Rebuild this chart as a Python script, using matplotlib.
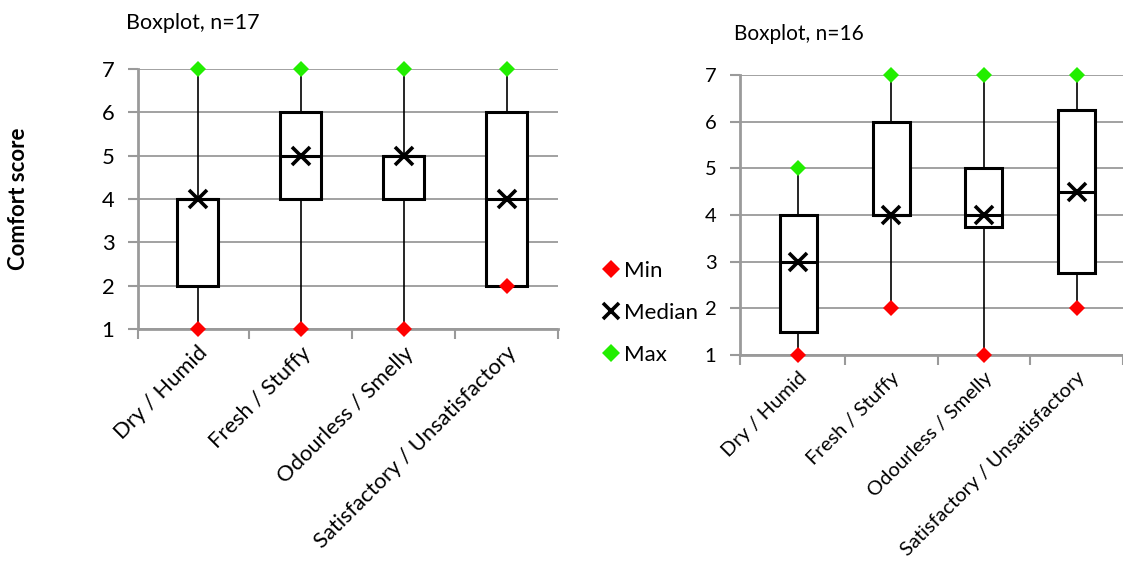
import matplotlib
matplotlib.use("Agg")
import matplotlib.pyplot as plt
from matplotlib.lines import Line2D

plt.rcParams['font.family'] = ['Lato', 'DejaVu Sans']

categories = ['Dry / Humid', 'Fresh / Stuffy', 'Odourless / Smelly',
              'Satisfactory / Unsatisfactory']

# left chart, n=17
mins_17 = [1, 1, 1, 2]
q1_17 = [2, 4, 4, 2]
med_17 = [4, 5, 5, 4]
q3_17 = [4, 6, 5, 6]
maxs_17 = [7, 7, 7, 7]

# right chart, n=16
mins_16 = [1, 2, 1, 2]
q1_16 = [1.5, 4, 3.75, 2.75]
med_16 = [3, 4, 4, 4.5]
q3_16 = [4, 6, 5, 6.25]
maxs_16 = [5, 7, 7, 7]

yticks = [1, 2, 3, 4, 5, 6, 7]

GRID = '#9a9a9a'
RED = '#ff0000'
GREEN = '#22ee00'

W, H = 1123, 568
fig = plt.figure(figsize=(W / 100, H / 100), dpi=100)


def px_axes(x0, x1, ytop, ybot):
    return fig.add_axes([x0 / W, 1 - ybot / H, (x1 - x0) / W, (ybot - ytop) / H])


def draw_panel(ax, mins, q1, med, q3, maxs, xlim, fs):
    stats = []
    for lo, a, m, b, hi in zip(mins, q1, med, q3, maxs):
        stats.append({'whislo': lo, 'q1': a, 'med': m, 'q3': b, 'whishi': hi})
    pos = list(range(1, len(stats) + 1))
    ax.bxp(stats, positions=pos, widths=0.4, showcaps=False, showfliers=False,
           patch_artist=True,
           boxprops=dict(facecolor='white', edgecolor='black', linewidth=2.2),
           whiskerprops=dict(color='black', linewidth=1.2),
           medianprops=dict(color='black', linewidth=2.2),
           zorder=3)
    ax.plot(pos, mins, 'D', color=RED, ms=8, mew=0, clip_on=False, zorder=5)
    ax.plot(pos, maxs, 'D', color=GREEN, ms=8, mew=0, clip_on=False, zorder=5)
    ax.plot(pos, med, 'x', color='black', ms=13, mew=2.6, clip_on=False, zorder=6)

    ax.set_xlim(*xlim)
    ax.set_ylim(1, 7)
    ax.set_yticks(yticks)
    ax.set_yticklabels([str(v) for v in yticks], fontsize=fs)
    ax.set_xticks(pos)
    ax.set_xticklabels(categories, rotation=45, ha='right', va='top',
                       rotation_mode='anchor', fontsize=fs)
    ax.tick_params(axis='x', length=0, pad=10)
    ax.set_xticks([xlim[0], 1.5, 2.5, 3.5, 4.5], minor=True)
    ax.tick_params(axis='x', which='minor', length=7, width=1.5, color=GRID,
                   direction='out')
    ax.tick_params(axis='y', length=7, width=1.5, color=GRID, pad=10)
    ax.grid(axis='y', color=GRID, linewidth=1.3)
    ax.set_axisbelow(True)
    for s in ['top', 'right']:
        ax.spines[s].set_visible(False)
    for s in ['left', 'bottom']:
        ax.spines[s].set_color(GRID)
        ax.spines[s].set_linewidth(2)


ax1 = px_axes(138, 558, 69, 329)
draw_panel(ax1, mins_17, q1_17, med_17, q3_17, maxs_17, (0.42, 4.5), 15.8)

ax2 = px_axes(740, 1123, 75, 355)
draw_panel(ax2, mins_16, q1_16, med_16, q3_16, maxs_16, (0.37, 4.42), 14.5)

fig.text(126 / W, 1 - 29 / H, 'Boxplot, n=17', fontsize=15.5, va='baseline', ha='left')
fig.text(734 / W, 1 - 40 / H, 'Boxplot, n=16', fontsize=15, va='baseline', ha='left')
fig.text(19 / W, 1 - 199 / H, 'Comfort score', rotation=90, fontsize=16,
         fontweight='bold', ha='center', va='center')

handles = [
    Line2D([], [], marker='D', color=RED, ls='none', ms=9, mew=0),
    Line2D([], [], marker='x', color='black', ls='none', ms=12, mew=2.6),
    Line2D([], [], marker='D', color=GREEN, ls='none', ms=9, mew=0),
]
fig.legend(handles, ['Min', 'Median', 'Max'], loc='center left',
           bbox_to_anchor=(592 / W, 1 - 313 / H), frameon=False, fontsize=16,
           handlelength=0.7, handletextpad=0.25, labelspacing=1.0, borderpad=0)

fig.savefig('out.png', dpi=100)
